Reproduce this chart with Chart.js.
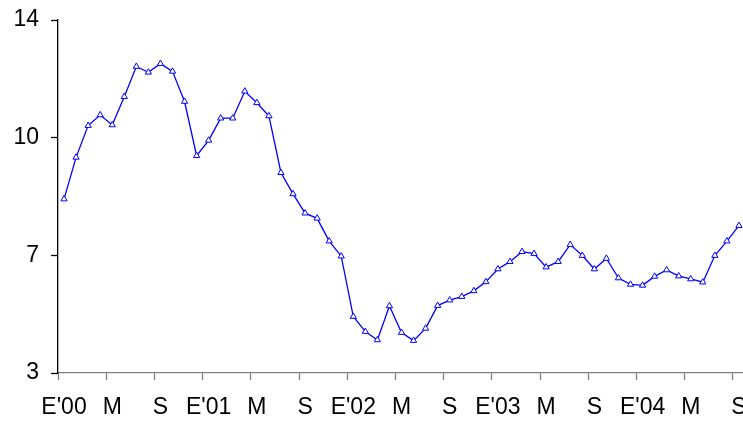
<!DOCTYPE html>
<html>
<head>
<meta charset="utf-8">
<script src="https://cdn.jsdelivr.net/npm/chart.js@4/dist/chart.umd.min.js"></script>
<style>
  html, body { margin: 0; padding: 0; background: #fff; overflow: hidden; }
  #wrap { width: 760px; height: 421px; }
</style>
</head>
<body>
<div id="wrap"><canvas id="chart" width="760" height="421"></canvas></div>
<script>
// Meses (iniciales) y años
const monthInitials = ['E', 'F', 'M', 'A', 'M', 'J', 'J', 'A', 'S', 'O', 'N', 'D'];
const years = ['00', '01', '02', '03', '04'];
const lastMonthOf2004 = 9; // hasta septiembre

// Valores mensuales (E'00 .. S'04)
const values = [
    8.42, 9.72, 10.71, 11.04, 10.73, 11.61, 12.55, 12.37, 12.64, 12.40, 11.46, 9.77,
    10.25, 10.94, 10.94, 11.78, 11.42, 11.01, 9.24, 8.58, 7.98, 7.82, 7.11, 6.64,
    4.76, 4.29, 4.03, 5.09, 4.26, 4.01, 4.39, 5.10, 5.27, 5.38, 5.56, 5.84,
    6.24, 6.47, 6.78, 6.72, 6.30, 6.47, 7.00, 6.66, 6.24, 6.57, 5.96, 5.76,
    5.73, 6.01, 6.21, 6.02, 5.93, 5.83, 6.66, 7.11, 7.59
];

// Eje Y: 4 marcas iguales entre 3 y 14, rotuladas sin decimales
const yMin = 3;
const yMax = 14;
const yTickLabels = ['3', '7', '10', '14'];

// Categorías
const categories = [];
years.forEach((y, i) => {
    const n = i === years.length - 1 ? lastMonthOf2004 : 12;
    for (let m = 0; m < n; m++) {
        categories.push(m === 0 ? "E'" + y : monthInitials[m]);
    }
});

const font = { family: 'Liberation Sans, Arial, sans-serif', size: 23 };

const ctx = document.getElementById('chart').getContext('2d');
new Chart(ctx, {
    type: 'line',
    data: {
        labels: categories,
        datasets: [{
            data: values,
            borderColor: '#0000ff',
            borderWidth: 1.3,
            pointStyle: 'triangle',
            pointRadius: 3.6,
            pointBorderWidth: 1,
            pointBorderColor: '#0000ff',
            pointBackgroundColor: '#ffffff',
            tension: 0,
        }],
    },
    options: {
        responsive: false,
        animation: false,
        events: [],
        layout: { padding: { top: 20, right: 15, left: 0, bottom: 0 } },
        plugins: { legend: { display: false }, tooltip: { enabled: false } },
        scales: {
            x: {
                type: 'category',
                offset: true,
                border: { color: '#808080', width: 1.3 },
                grid: {
                    offset: true,
                    drawOnChartArea: false,
                    tickLength: 7,
                    tickWidth: 1.3,
                    tickColor: (c) => (c.index % 4 === 0 ? '#808080' : 'rgba(0,0,0,0)'),
                },
                ticks: {
                    autoSkip: false,
                    maxRotation: 0,
                    padding: 14,
                    color: '#000',
                    font: font,
                    callback: (v, i) => (i % 4 === 0 ? categories[i] : ''),
                },
                afterFit: (s) => { s.height = 48; s.paddingLeft = 0; s.paddingRight = 0; },
            },
            y: {
                min: yMin,
                max: yMax,
                border: { color: '#000', width: 1.3 },
                grid: { drawOnChartArea: false, tickLength: 7, tickColor: '#000', tickWidth: 1.3 },
                ticks: {
                    padding: 12,
                    color: '#000',
                    font: font,
                    callback: (v, i) => yTickLabels[i],
                },
                afterBuildTicks: (s) => {
                    const step = (yMax - yMin) / (yTickLabels.length - 1);
                    s.ticks = yTickLabels.map((_, i) => ({ value: yMin + step * i }));
                },
                afterFit: (s) => { s.width = 58; s.paddingTop = 0; s.paddingBottom = 0; },
            },
        },
    },
});
</script>
</body>
</html>
